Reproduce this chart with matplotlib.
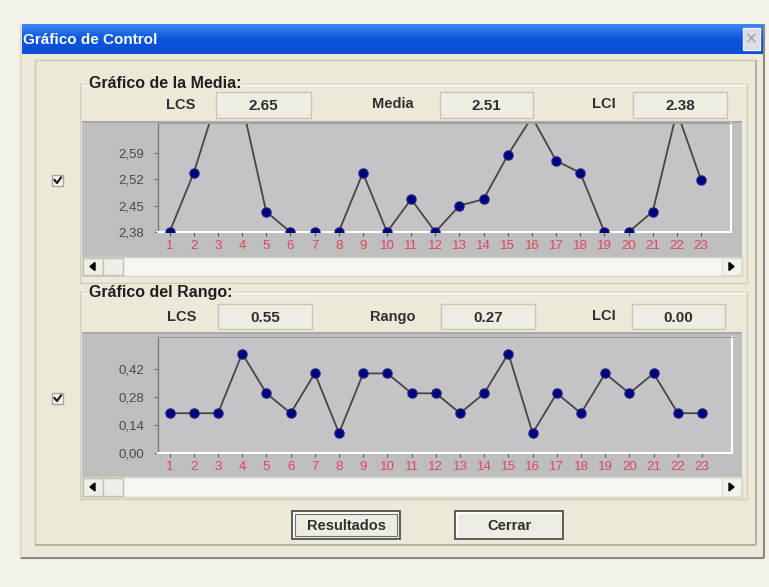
import numpy as np
import matplotlib
matplotlib.use('Agg')
import matplotlib.pyplot as plt
from matplotlib.patches import Rectangle, Polygon

W, H = 769, 587

# datos
muestras = list(range(1, 24))
medias = [2.38, 2.537, 2.74, 2.72, 2.434, 2.38, 2.38, 2.38, 2.537, 2.38, 2.467, 2.38,
          2.45, 2.467, 2.584, 2.685, 2.569, 2.537, 2.38, 2.38, 2.434, 2.70, 2.518]
rangos = [0.2, 0.2, 0.2, 0.5, 0.3, 0.2, 0.4, 0.1, 0.4, 0.4, 0.3, 0.3,
          0.2, 0.3, 0.5, 0.1, 0.3, 0.2, 0.4, 0.3, 0.4, 0.2, 0.2]
ticks_media = [2.38, 2.45, 2.52, 2.59]
etiq_media = ['2,38', '2,45', '2,52', '2,59']
ticks_rango = [0.00, 0.14, 0.28, 0.42]
etiq_rango = ['0,00', '0,14', '0,28', '0,42']
valores_media = {'LCS': '2.65', 'Media': '2.51', 'LCI': '2.38'}
valores_rango = {'LCS': '0.55', 'Rango': '0.27', 'LCI': '0.00'}

FUENTE = ['Liberation Sans Narrow', 'Liberation Sans', 'DejaVu Sans']
plt.rcParams['font.family'] = FUENTE

BG = '#ece9d8'


def px(x0, y0, x1, y1):
    return [x0 / W, 1 - y1 / H, (x1 - x0) / W, (y1 - y0) / H]


fig = plt.figure(figsize=(W / 100, H / 100), dpi=100, facecolor='#f3f1e9')
ui = fig.add_axes([0, 0, 1, 1])
ui.set_xlim(0, W)
ui.set_ylim(H, 0)
ui.axis('off')


def rect(x0, y0, x1, y1, fc, ec='none', lw=1, z=1):
    ui.add_patch(Rectangle((x0, y0), x1 - x0, y1 - y0, facecolor=fc,
                           edgecolor=ec, lw=lw, zorder=z))


def hline(y, x0, x1, c, lw=1, z=2):
    ui.plot([x0, x1], [y, y], color=c, lw=lw, zorder=z, solid_capstyle='butt')


def vline(x, y0, y1, c, lw=1, z=2):
    ui.plot([x, x], [y0, y1], color=c, lw=lw, zorder=z, solid_capstyle='butt')


# ventana
rect(20, 24, 764, 558, BG)
hline(558, 20, 764, '#8c8a80', 1.5)
vline(764, 24, 558, '#8c8a80', 1.5)
vline(20, 24, 558, '#d8d5c8', 1)

# barra de titulo con degradado
grad = np.linspace(0, 1, 40).reshape(-1, 1)
ui.imshow(grad, extent=[22, 763, 54, 24], aspect='auto', zorder=2,
          cmap=matplotlib.colors.LinearSegmentedColormap.from_list(
              'tb', ['#3d86f2', '#0a55dd', '#0a4fd4']))
ui.text(23, 39.5, 'Gráfico de Control', color='white', fontsize=11,
        fontweight='bold', va='center', ha='left', zorder=3)
rect(743, 28, 760, 50, '#dcdce6', ec='#f0f0f4', lw=1, z=3)
ui.text(751.5, 39, '×', color='#9a9aa8', fontsize=11, ha='center',
        va='center', zorder=4, family='DejaVu Sans')

# panel interior
hline(60, 35, 756, '#c9c6b6')
vline(35, 60, 545, '#c9c6b6')
hline(545, 35, 756, '#b5b2a2', 1.5)
vline(756, 60, 545, '#b5b2a2', 1.5)


def grupo(y0, y1, titulo):
    ui.add_patch(Rectangle((80, y0), 667, y1 - y0, facecolor='none',
                           edgecolor='#d0cdbd', lw=1, zorder=2))
    hline(y0 + 1, 81, 746, 'white', 1)
    ui.text(89, y0, titulo, fontsize=11.5, fontweight='bold', color='#202020',
            ha='left', va='center', zorder=4,
            bbox=dict(facecolor=BG, edgecolor='none', pad=0.5))


def caja(x0, y0, x1, y1, texto):
    rect(x0, y0, x1, y1, '#efede2', ec='#c8c5b4', lw=1, z=3)
    ui.text((x0 + x1) / 2, (y0 + y1) / 2 + 1, texto, fontsize=11,
            fontweight='bold', color='#303030', ha='center', va='center', zorder=4)


def etiqueta(x, y, texto):
    ui.text(x, y, texto, fontsize=10.5, fontweight='bold', color='#303030',
            ha='center', va='center', zorder=4)


def scroll(y0, y1):
    rect(82, y0, 742, y1, '#f6f5ef', ec='#d6d4c8', lw=1, z=3)
    rect(83, y0 + 1, 103, y1 - 1, '#eeede6', ec='#c2c0b4', lw=1, z=4)
    rect(103, y0 + 1, 123, y1 - 1, '#efeee8', ec='#c2c0b4', lw=1, z=4)
    rect(722, y0 + 1, 741, y1 - 1, '#f3f2ec', ec='#e2e0d6', lw=1, z=4)
    yc = (y0 + y1) / 2
    ui.add_patch(Polygon([[90, yc], [95, yc - 4], [95, yc + 4]], color='black', zorder=5))
    ui.add_patch(Polygon([[734, yc], [729, yc - 4], [729, yc + 4]], color='black', zorder=5))


def checkbox(y):
    rect(52, y - 5, 63, y + 6, '#f7f6f0', ec='#a8a69a', lw=1, z=3)
    ui.plot([54.5, 57, 61], [y, y + 3, y - 2.5], color='#202020', lw=1.6, zorder=4)


# grupo media
grupo(84, 283, 'Gráfico de la Media:')
etiqueta(181, 105, 'LCS')
caja(216, 92, 311, 118, valores_media['LCS'])
etiqueta(393, 104, 'Media')
caja(440, 92, 533, 118, valores_media['Media'])
etiqueta(604, 104, 'LCI')
caja(633, 92, 727, 118, valores_media['LCI'])
rect(82, 121, 742, 257, '#bebebe', z=2)
hline(121.5, 82, 742, '#a9a9a9', 1.5, z=2.5)
scroll(257, 276)
checkbox(180)

# grupo rango
grupo(292, 499, 'Gráfico del Rango:')
etiqueta(182, 317, 'LCS')
caja(218, 304, 312, 329, valores_rango['LCS'])
etiqueta(393, 317, 'Rango')
caja(441, 304, 535, 329, valores_rango['Rango'])
etiqueta(604, 316, 'LCI')
caja(632, 304, 725, 329, valores_rango['LCI'])
rect(82, 332, 742, 477, '#bebebe', z=2)
hline(332.5, 82, 742, '#a9a9a9', 1.5, z=2.5)
scroll(477, 497)
checkbox(398)


# botones
def boton(x0, x1, texto, foco=False):
    rect(x0, 511, x1, 539, '#eeebe0', ec='#505050', lw=1.3, z=3)
    hline(512.5, x0 + 1, x1 - 1, 'white', 1.2, z=4)
    vline(x0 + 1.5, 512, 538, 'white', 1.2, z=4)
    if foco:
        ui.add_patch(Rectangle((x0 + 3, 514), x1 - x0 - 6, 22, facecolor='none',
                               edgecolor='#707070', lw=0.8, zorder=4))
    ui.text((x0 + x1) / 2, 525.5, texto, fontsize=10.5, fontweight='bold',
            color='#303030', ha='center', va='center', zorder=5)


boton(292, 400, 'Resultados', foco=True)
boton(455, 563, 'Cerrar')


def grafico(rect_px, y, ylim, yt, ytl):
    ax = fig.add_axes(px(*rect_px))
    ax.set_facecolor('#c4c4c6')
    ax.plot(muestras, y, color='#464646', lw=1.3, zorder=2)
    ax.plot(muestras, y, 'o', color='#00007f', ms=6.5, mec='#1a1a80', zorder=3)
    ax.set_xlim(0.52, 24.24)
    ax.set_ylim(*ylim)
    ax.set_xticks(muestras)
    ax.set_xticklabels([str(m) for m in muestras])
    ax.set_yticks(yt)
    ax.set_yticklabels(ytl)
    ax.tick_params(axis='x', colors='#555555', labelcolor='#e0455e', labelsize=9.5,
                   length=3, width=0.8, pad=3)
    ax.tick_params(axis='y', colors='#777777', labelcolor='#4a4a4a', labelsize=9.5,
                   length=3, width=0.8, pad=7)
    for s in ['right', 'bottom']:
        ax.spines[s].set_color('white')
        ax.spines[s].set_linewidth(1.5)
    ax.spines['top'].set_color('#9a9a9a')
    ax.spines['left'].set_color('#7a7a7a')
    ax.spines['left'].set_linewidth(1)
    return ax


grafico((158, 123, 731, 232), medias, (2.38, 2.669), ticks_media, etiq_media)
grafico((158, 337, 732, 453), rangos, (0.0, 0.583), ticks_rango, etiq_rango)

fig.savefig('out.png', dpi=100, facecolor=fig.get_facecolor())
